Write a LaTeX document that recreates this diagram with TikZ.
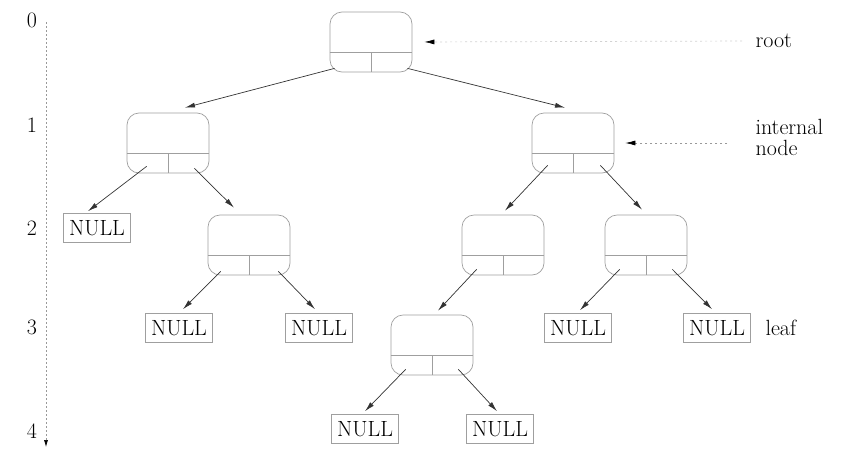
\documentclass[tikz,border=0pt]{standalone}
\usetikzlibrary{arrows.meta}
\begin{document}
\begin{tikzpicture}[x=1pt,y=-1pt,
  every node/.style={font=\fontsize{22}{21}\selectfont},
  tnode/.style={draw=gray!75, line width=0.7pt, rounded corners=12pt,
                minimum width=82pt, minimum height=60pt, inner sep=0pt},
  nullbox/.style={draw=gray!75, line width=0.6pt, minimum width=67pt,
                  minimum height=29pt, inner sep=0pt},
  divider/.style={draw=gray!75, line width=0.7pt},
  edge/.style={draw=black!80, line width=0.7pt, -{Latex[length=10pt,width=5pt]}},
  pointer/.style={draw=gray!80, line width=0.7pt, dash pattern=on 2pt off 3pt,
                  -{Latex[length=10pt,width=5pt,color=black]}},
  levelaxis/.style={draw=gray!80, line width=0.7pt, dash pattern=on 1.5pt off 2.5pt,
                    -{Latex[length=7pt,width=4pt,color=black]}}
]
\useasboundingbox (0,0) rectangle (845,450);

% tree nodes (key cell on top, two child cells below)
\node[tnode] (r) at (371,42)  {};
\node[tnode] (a) at (168,143) {};
\node[tnode] (b) at (573,143) {};
\node[tnode] (c) at (249,245) {};
\node[tnode] (d) at (503,245) {};
\node[tnode] (e) at (646,245) {};
\node[tnode] (f) at (432,345) {};

\foreach \n in {r,a,b,c,d,e,f}{
  \draw[divider] ([yshift=20pt]\n.south west) -- ([yshift=20pt]\n.south east);
  \draw[divider] ([yshift=20pt]\n.south) -- (\n.south);
}

% empty subtrees
\node[nullbox] (n1) at (97,228)  {NULL};
\node[nullbox] (n2) at (179,328) {NULL};
\node[nullbox] (n3) at (319,328) {NULL};
\node[nullbox] (n4) at (578,328) {NULL};
\node[nullbox] (n5) at (717,328) {NULL};
\node[nullbox] (n6) at (365,429) {NULL};
\node[nullbox] (n7) at (500,429) {NULL};

% child pointers
\draw[edge] ([shift={(5,-4)}]r.south west)   -- ([shift={(17,-5)}]a.north);
\draw[edge] ([shift={(-5,-4)}]r.south east)  -- ([shift={(-8,-5)}]b.north);
\draw[edge] ([shift={(20,-7)}]a.south west)  -- ([shift={(-9,-2)}]n1.north);
\draw[edge] ([shift={(-15,-5)}]a.south east) -- ([shift={(-15,-7)}]c.north);
\draw[edge] ([shift={(16,-8)}]b.south west)  -- ([shift={(2,-4)}]d.north);
\draw[edge] ([shift={(-14,-8)}]b.south east) -- ([shift={(-4,-5)}]e.north);
\draw[edge] ([shift={(13,-4)}]c.south west)  -- ([shift={(4,-4)}]n2.north);
\draw[edge] ([shift={(-12,-4)}]c.south east) -- ([shift={(-4,-4)}]n3.north);
\draw[edge] ([shift={(15,-6)}]d.south west)  -- ([shift={(6,-4)}]f.north);
\draw[edge] ([shift={(15,-6)}]e.south west)  -- ([shift={(2,-3)}]n4.north);
\draw[edge] ([shift={(-15,-6)}]e.south east) -- ([shift={(-5,-4)}]n5.north);
\draw[edge] ([shift={(15,-6)}]f.south west)  -- ([shift={(0,-3)}]n6.north);
\draw[edge] ([shift={(-15,-6)}]f.south east) -- ([shift={(-3,-3)}]n7.north);

% level axis
\node (l0) at (32,20)  {0};
\node (l1) at (32,125) {1};
\node (l2) at (32,228) {2};
\node (l3) at (32,327) {3};
\node (l4) at (32,431) {4};
\coordinate (axtop) at (46,22);
\coordinate (axbot) at (46,447);
\draw[levelaxis] (axtop) -- (axbot);

% annotations
\node[anchor=west] (rootlbl) at (752,41) {root};
\node[anchor=west, align=left] (intlbl) at (752,137) {internal\\node};
\node[anchor=west] (leaflbl) at (762,328) {leaf};
\draw[pointer, draw=gray!35, shorten <=10pt, shorten >=12pt] (rootlbl.west) -- (r.east);
\draw[pointer, shorten <=25pt, shorten >=11pt] (intlbl.west |- b.east) -- (b.east);
\end{tikzpicture}
\end{document}
